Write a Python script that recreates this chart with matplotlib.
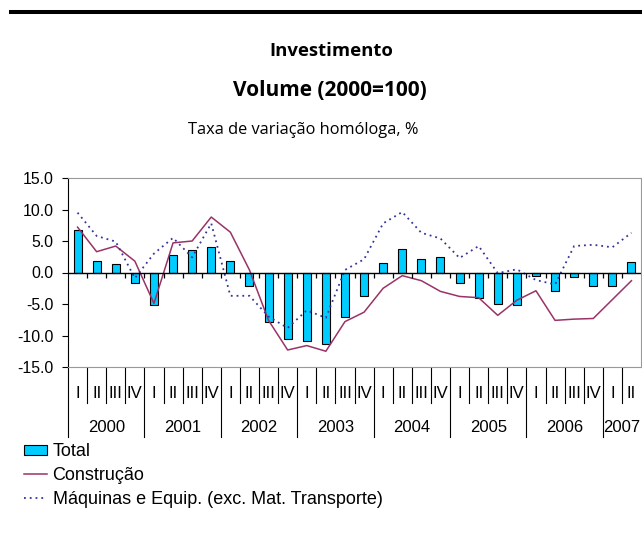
import numpy as np
import matplotlib
matplotlib.use("Agg")
import matplotlib.pyplot as plt
from matplotlib.lines import Line2D
from matplotlib.patches import Patch
import matplotlib.transforms as mtransforms

plt.rcParams['font.family'] = ['Liberation Sans', 'DejaVu Sans']

quarters = ["I", "II", "III", "IV"] * 7 + ["I", "II"]
years = ["2000", "2001", "2002", "2003", "2004", "2005", "2006", "2007"]

total = [6.7, 1.8, 1.3, -1.6, -5.2, 2.7, 3.6, 4.0,
         1.9, -2.2, -7.9, -10.5, -10.8, -11.3, -7.1, -3.8,
         1.5, 3.8, 2.2, 2.4, -1.7, -4.0, -5.0, -5.2,
         -0.5, -2.9, -0.7, -2.1, -2.1, 1.6]
construcao = [7.2, 3.3, 4.2, 1.8, -4.9, 4.7, 5.0, 8.8,
              6.4, 0.4, -7.6, -12.3, -11.6, -12.5, -7.8, -6.3,
              -2.5, -0.5, -1.3, -3.0, -3.8, -4.0, -6.8, -4.4,
              -2.9, -7.6, -7.4, -7.3, -4.3, -1.3]
maquinas = [9.5, 5.8, 4.9, -0.9, 3.0, 5.5, 2.4, 7.8,
            -3.7, -3.7, -7.0, -8.8, -6.0, -7.2, 0.4, 2.1,
            7.8, 9.6, 6.3, 5.4, 2.3, 4.2, -0.1, 0.5,
            -1.2, -1.9, 4.2, 4.4, 4.0, 6.3]

bar_color = '#00CCFF'
constr_color = '#993366'
maq_color = '#333399'

fig = plt.figure(figsize=(6.42, 5.48), dpi=100)

# heavy rule at the top
fig.add_artist(Line2D([11/642, 1], [1 - 12/548, 1 - 12/548], color='black', lw=2.9))

fig.text(331/642, 1 - 51/548, "Investimento", ha='center', va='center',
         fontsize=13.3, fontweight='bold', family='Open Sans')
fig.text(330/642, 1 - 91/548, "Volume (2000=100)", ha='center', va='center',
         fontsize=15, fontweight='bold', family='Open Sans')
fig.text(303/642, 1 - 130/548, "Taxa de variação homóloga, %", ha='center', va='center',
         fontsize=11.8, family='Open Sans')

ax = fig.add_axes([68/642, 1 - 367/548, (641 - 68)/642, (367 - 178)/548])

x = np.arange(len(total))
ax.bar(x, total, width=0.42, color=bar_color, edgecolor='black', linewidth=0.8, zorder=3)
ax.plot(x, construcao, color=constr_color, lw=1.1, zorder=4)
ax.plot(x, maquinas, color=maq_color, lw=1.3, linestyle=(0, (1, 2.2)), zorder=4)

ax.axhline(0, color='black', lw=1.0, zorder=5)
ax.vlines(np.arange(1, len(total)) - 0.5, -0.9, 0, color='black', lw=0.9, zorder=5)

ax.set_xlim(-0.5, len(total) - 0.5)
ax.set_ylim(-15, 15)
ax.set_yticks(np.arange(-15, 16, 5))
ax.set_yticklabels(["%.1f" % v for v in np.arange(-15, 16, 5)], fontsize=11.4)
ax.tick_params(axis='y', direction='out', length=4.1, width=0.8, pad=6.5)
ax.set_xticks([])

for side in ['top', 'right', 'bottom']:
    ax.spines[side].set_color('#999999')
ax.spines['left'].set_color('black')

# category table below the plot
trans = mtransforms.blended_transform_factory(ax.transData, ax.transAxes)
for i, q in enumerate(quarters):
    ax.text(i, -0.138, q, transform=trans, ha='center', va='center', fontsize=12)
for b in range(1, len(total)):
    if b % 4 == 0:
        ax.plot([b - 0.5, b - 0.5], [0, -0.37], transform=trans, color='black', lw=0.8, clip_on=False)
    else:
        ax.plot([b - 0.5, b - 0.5], [0, -0.19], transform=trans, color='black', lw=0.8, clip_on=False)
ax.plot([-0.5, -0.5], [0, -0.37], transform=trans, color='black', lw=0.8, clip_on=False)
for k, y in enumerate(years):
    start = k * 4
    end = min(start + 4, len(total))
    ax.text((start + end - 1) / 2, -0.32, y, transform=trans, ha='center', va='center', fontsize=12)

handles = [Patch(facecolor=bar_color, edgecolor='black', linewidth=0.8),
           Line2D([], [], color=constr_color, lw=1.1),
           Line2D([], [], color=maq_color, lw=1.3, linestyle=(0, (1, 2.2)))]
labels = ["Total", "Construção", "Máquinas e Equip. (exc. Mat. Transporte)"]
fig.legend(handles, labels, loc='upper left', bbox_to_anchor=(24/642, 1 - 443.5/548),
           frameon=False, fontsize=13, borderpad=0, borderaxespad=0, handlelength=1.28,
           handleheight=0.5, handletextpad=0.3, labelspacing=0.36)

fig.savefig("out.png", dpi=100)
